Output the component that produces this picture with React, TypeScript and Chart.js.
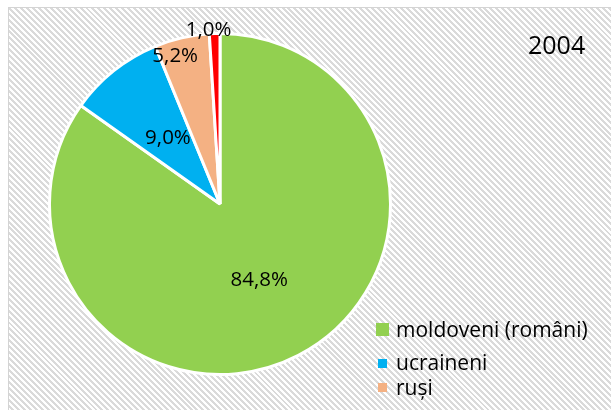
import React, { useEffect, useRef } from "react";
import { Chart, registerables } from "chart.js";

Chart.register(...registerables);

const categories = ["moldoveni (români)", "ucraineni", "ruși", "alții"];
const values = [84.8, 9.0, 5.2, 1.0];
const colors = ["#92D050", "#00B0F0", "#F4B183", "#FF0000"];
const titleText = "2004";
const legendCount = 3;

const FONT = "'Open Sans', 'DejaVu Sans', sans-serif";

// label placement: fraction of radius from center, plus pixel nudge
const labelRadius = [0.5, 0.49, 0.91, 1.02];
const labelNudge = [
  [0, 0],
  [0, 0],
  [-10, 3],
  [-6, 0],
];

const overlayPlugin = {
  id: "overlay",
  afterDatasetsDraw(chart: any) {
    const ctx = chart.ctx;
    const meta = chart.getDatasetMeta(0);
    ctx.save();
    ctx.fillStyle = "#000";
    ctx.font = `20.5px ${FONT}`;
    ctx.textAlign = "center";
    ctx.textBaseline = "middle";
    meta.data.forEach((arc: any, i: number) => {
      const { x, y, startAngle, endAngle, outerRadius } = arc.getProps(
        ["x", "y", "startAngle", "endAngle", "outerRadius"],
        true
      );
      const mid = (startAngle + endAngle) / 2;
      const r = outerRadius * labelRadius[i];
      const lx = x + Math.cos(mid) * r + labelNudge[i][0];
      const ly = y + Math.sin(mid) * r + labelNudge[i][1];
      const txt = values[i].toFixed(1).replace(".", ",") + "%";
      ctx.fillText(txt, lx, ly);
    });

    // title
    ctx.textAlign = "left";
    ctx.textBaseline = "alphabetic";
    ctx.font = `25px ${FONT}`;
    ctx.fillText(titleText, 519, 46);

    // legend
    const rows = [
      { box: 13, bx: 367, by: 315, ty: 329 },
      { box: 9, bx: 369, by: 351, ty: 362 },
      { box: 9, bx: 369, by: 375, ty: 387 },
    ];
    ctx.font = `21px ${FONT}`;
    for (let i = 0; i < legendCount; i++) {
      const row = rows[i];
      ctx.fillStyle = colors[i];
      ctx.fillRect(row.bx, row.by, row.box, row.box);
      ctx.fillStyle = "#000";
      ctx.fillText(categories[i], 387, row.ty);
    }
    ctx.restore();
  },
};

export default function App() {
  const ref = useRef<HTMLCanvasElement>(null);
  useEffect(() => {
    if (!ref.current) return;
    const chart = new Chart(ref.current, {
      type: "pie",
      data: {
        labels: categories,
        datasets: [
          {
            data: values,
            backgroundColor: colors,
            borderColor: "#ffffff",
            borderWidth: 3,
          },
        ],
      },
      options: {
        responsive: false,
        animation: false,
        layout: { padding: { left: 39, top: 24, right: 222, bottom: 37 } },
        plugins: {
          legend: { display: false },
          tooltip: { enabled: false },
          title: { display: false },
        },
      },
      plugins: [overlayPlugin],
    });
    return () => chart.destroy();
  }, []);

  return (
    <div
      style={{
        position: "fixed",
        left: 8,
        top: 7,
        width: 616,
        height: 416,
        boxSizing: "border-box",
        border: "1px solid #d4d4d4",
        background:
          "repeating-linear-gradient(45deg, #ffffff 0px, #ffffff 2.1px, #dadada 2.1px, #dadada 4.2px)",
      }}
    >
      <canvas
        ref={ref}
        width={605}
        height={405}
        style={{ position: "absolute", left: 0, top: 0, width: 605, height: 405 }}
      />
    </div>
  );
}
